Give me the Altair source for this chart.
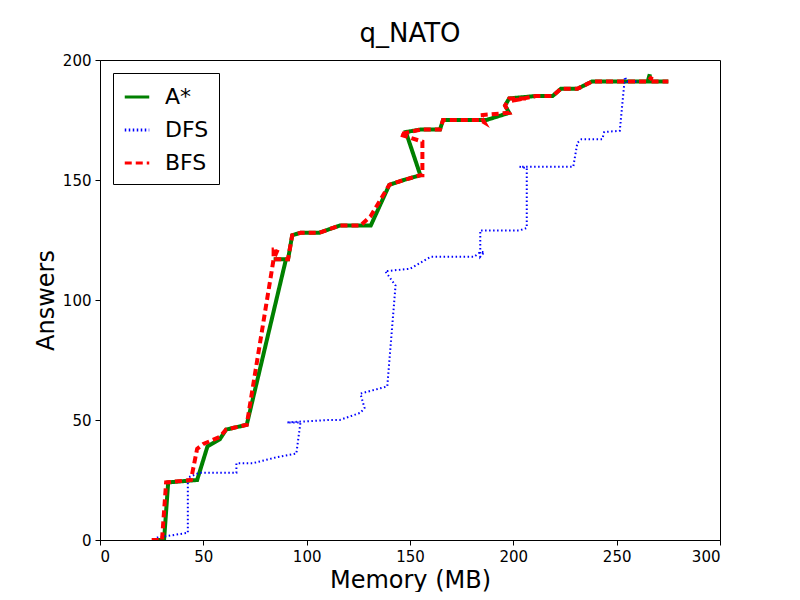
import altair as alt
import pandas as pd

astar_x = [26, 31, 33, 47, 52, 58, 61, 71, 90, 84, 91, 93, 97, 106, 116, 131, 140, 147, 155, 148,
           155, 164.5, 166, 184, 187, 198, 196, 198, 211, 219, 223, 231, 238, 265, 266, 266, 275]
astar_y = [0, 0, 24, 25, 39, 42, 46, 48, 117, 117, 117, 127, 128, 128, 131, 131, 148, 150, 152, 170,
           171, 171, 175, 175, 175, 178, 181, 184, 185, 185, 188, 188, 191, 191, 194, 191, 191]

bfs_x = [25, 30, 32, 44, 47, 50, 58, 61, 71, 84, 84, 86, 84, 91, 93, 97, 106, 116, 126, 131, 140, 147,
         155, 156, 156, 145, 150, 155, 164.5, 166, 184, 186, 184, 198, 196, 198, 206, 199, 211, 219,
         223, 231, 238, 265, 267, 266, 275]
bfs_y = [0, 0, 24, 25, 38, 40, 43, 46, 48, 117, 121, 121, 117, 117, 127, 128, 128, 131, 131, 135, 148,
         150, 152, 152, 166, 169, 170, 171, 171, 175, 175, 174, 177, 178, 181, 184, 184, 183, 185, 185,
         188, 188, 191, 191, 193, 191, 191]

dfs_x = [27.5, 42.5, 42.5, 48, 66, 66, 74, 85.5, 95, 97, 90.5, 111, 116, 126, 128, 126, 139, 143,
         138, 150, 160, 181, 184, 186, 184, 184, 203, 206.5, 206.5, 203, 229, 231, 233, 243, 244,
         251.5, 254, 255, 262]
dfs_y = [1, 3, 26, 28, 28, 32, 32, 34.5, 36, 49, 49, 50, 50, 53, 55, 61, 64, 106, 112, 113, 118,
         118, 120, 120, 118, 129, 129, 130, 155, 155.5, 155.5, 165.5, 167, 167, 170, 170.5, 193,
         191, 191]

order = ["A*", "DFS", "BFS"]
colors = ["green", "blue", "red"]
dashes = [[1, 0], [1.5, 2.5], [7, 4]]
widths = {"A*": 4, "DFS": 2, "BFS": 4}


def frame(name, xs, ys):
    return pd.DataFrame({"alg": name, "mem": xs, "ans": ys, "i": range(len(xs))})


def line(df, name):
    return alt.Chart(df).mark_line(clip=True, strokeWidth=widths[name]).encode(
        x=alt.X("mem:Q", title="Memory (MB)", scale=alt.Scale(domain=[0, 300], nice=False),
                axis=alt.Axis(values=[0, 50, 100, 150, 200, 250, 300], grid=False)),
        y=alt.Y("ans:Q", title="Answers", scale=alt.Scale(domain=[0, 200], nice=False),
                axis=alt.Axis(values=[0, 50, 100, 150, 200], grid=False)),
        color=alt.Color("alg:N", title=None, scale=alt.Scale(domain=order, range=colors)),
        strokeDash=alt.StrokeDash("alg:N", title=None, scale=alt.Scale(domain=order, range=dashes)),
        order="i:Q",
    )


chart = alt.layer(
    line(frame("A*", astar_x, astar_y), "A*"),
    line(frame("DFS", dfs_x, dfs_y), "DFS"),
    line(frame("BFS", bfs_x, bfs_y), "BFS"),
    title=alt.Title("q_NATO", fontSize=26, fontWeight="normal", offset=6),
).properties(
    width=620, height=480,
    autosize=alt.AutoSizeParams(type="none"),
    padding={"left": 92, "top": 52, "right": 72, "bottom": 52},
).configure(
    font="DejaVu Sans",
).configure_view(
    stroke="black", strokeWidth=1
).configure_axis(
    labelFontSize=15, titleFontSize=24, titleFontWeight="normal", labelColor="black",
    titleColor="black", domainColor="black", tickColor="black", tickSize=5, labelPadding=4,
).configure_legend(
    orient="none", legendX=13, legendY=13, labelFontSize=22, symbolSize=600,
    symbolStrokeWidth=3, symbolType="stroke", strokeColor="black", fillColor="white",
    padding=10, rowPadding=8, labelOffset=14,
)

chart.save("out.html", embed_options={"renderer": "svg", "actions": False})
